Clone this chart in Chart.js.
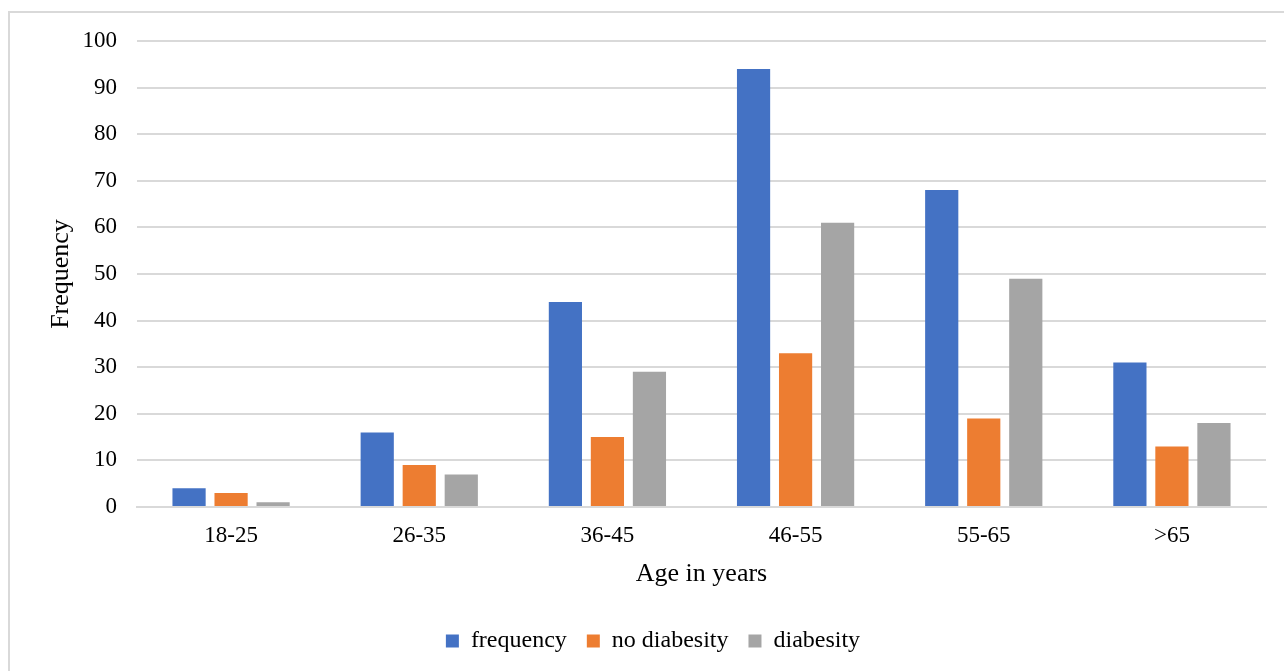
<!DOCTYPE html>
<html lang="en">
<head>
    <meta charset="UTF-8">
    <title>Frequency by age</title>
    <script src="https://cdn.jsdelivr.net/npm/chart.js"></script>
    <style>
        body { margin: 0; background: #fff; }
        #wrap { position: absolute; left: 0; top: 0; width: 1284px; height: 671px; }
    </style>
</head>
<body>
<div id="wrap"><canvas id="ageChart"></canvas></div>

<script>
    const ageGroups = ['18-25', '26-35', '36-45', '46-55', '55-65', '>65'];
    const frequency = [4, 16, 44, 94, 68, 31];
    const noDiabesity = [3, 9, 15, 33, 19, 13];
    const diabesity = [1, 7, 29, 61, 49, 18];

    const serif = "'Liberation Serif', 'Times New Roman', serif";

    // light gray frame around the whole chart
    const frame = {
        id: 'frame',
        beforeDraw(chart) {
            const c = chart.ctx;
            c.save();
            c.strokeStyle = '#d9d9d9';
            c.lineWidth = 2;
            c.strokeRect(9, 12, 1300, 700);
            c.restore();
        }
    };

    new Chart(document.getElementById('ageChart').getContext('2d'), {
        type: 'bar',
        data: {
            labels: ageGroups,
            datasets: [
                { label: 'frequency', data: frequency, backgroundColor: '#4472c4' },
                { label: 'no diabesity', data: noDiabesity, backgroundColor: '#ed7d31' },
                { label: 'diabesity', data: diabesity, backgroundColor: '#a5a5a5' }
            ]
        },
        options: {
            responsive: true,
            maintainAspectRatio: false,
            animation: false,
            datasets: {
                bar: { categoryPercentage: 0.67, barPercentage: 0.79 }
            },
            layout: { padding: { left: 40, right: 18, top: 41, bottom: 8 } },
            plugins: {
                legend: {
                    position: 'bottom',
                    labels: {
                        font: { family: serif, size: 24 },
                        color: '#000',
                        boxWidth: 13,
                        boxHeight: 13,
                        padding: 20
                    }
                },
                tooltip: { enabled: false }
            },
            scales: {
                x: {
                    afterFit(scale) { scale.height = 102; },
                    grid: { display: false, drawTicks: false },
                    border: { color: '#d9d9d9', width: 2 },
                    ticks: { font: { family: serif, size: 23 }, color: '#000', padding: 15 },
                    title: {
                        display: true,
                        text: 'Age in years',
                        font: { family: serif, size: 26 },
                        color: '#000',
                        padding: { top: 4, bottom: 19 }
                    }
                },
                y: {
                    afterFit(scale) { scale.width = 97; },
                    min: 0,
                    max: 100,
                    ticks: { stepSize: 10, font: { family: serif, size: 23 }, color: '#000', padding: 20 },
                    grid: { color: '#d9d9d9', lineWidth: 2, drawTicks: false },
                    border: { display: false },
                    title: {
                        display: true,
                        text: 'Frequency',
                        font: { family: serif, size: 26 },
                        color: '#000',
                        padding: { top: 6, bottom: 5 }
                    }
                }
            }
        },
        plugins: [frame]
    });
</script>
</body>
</html>
